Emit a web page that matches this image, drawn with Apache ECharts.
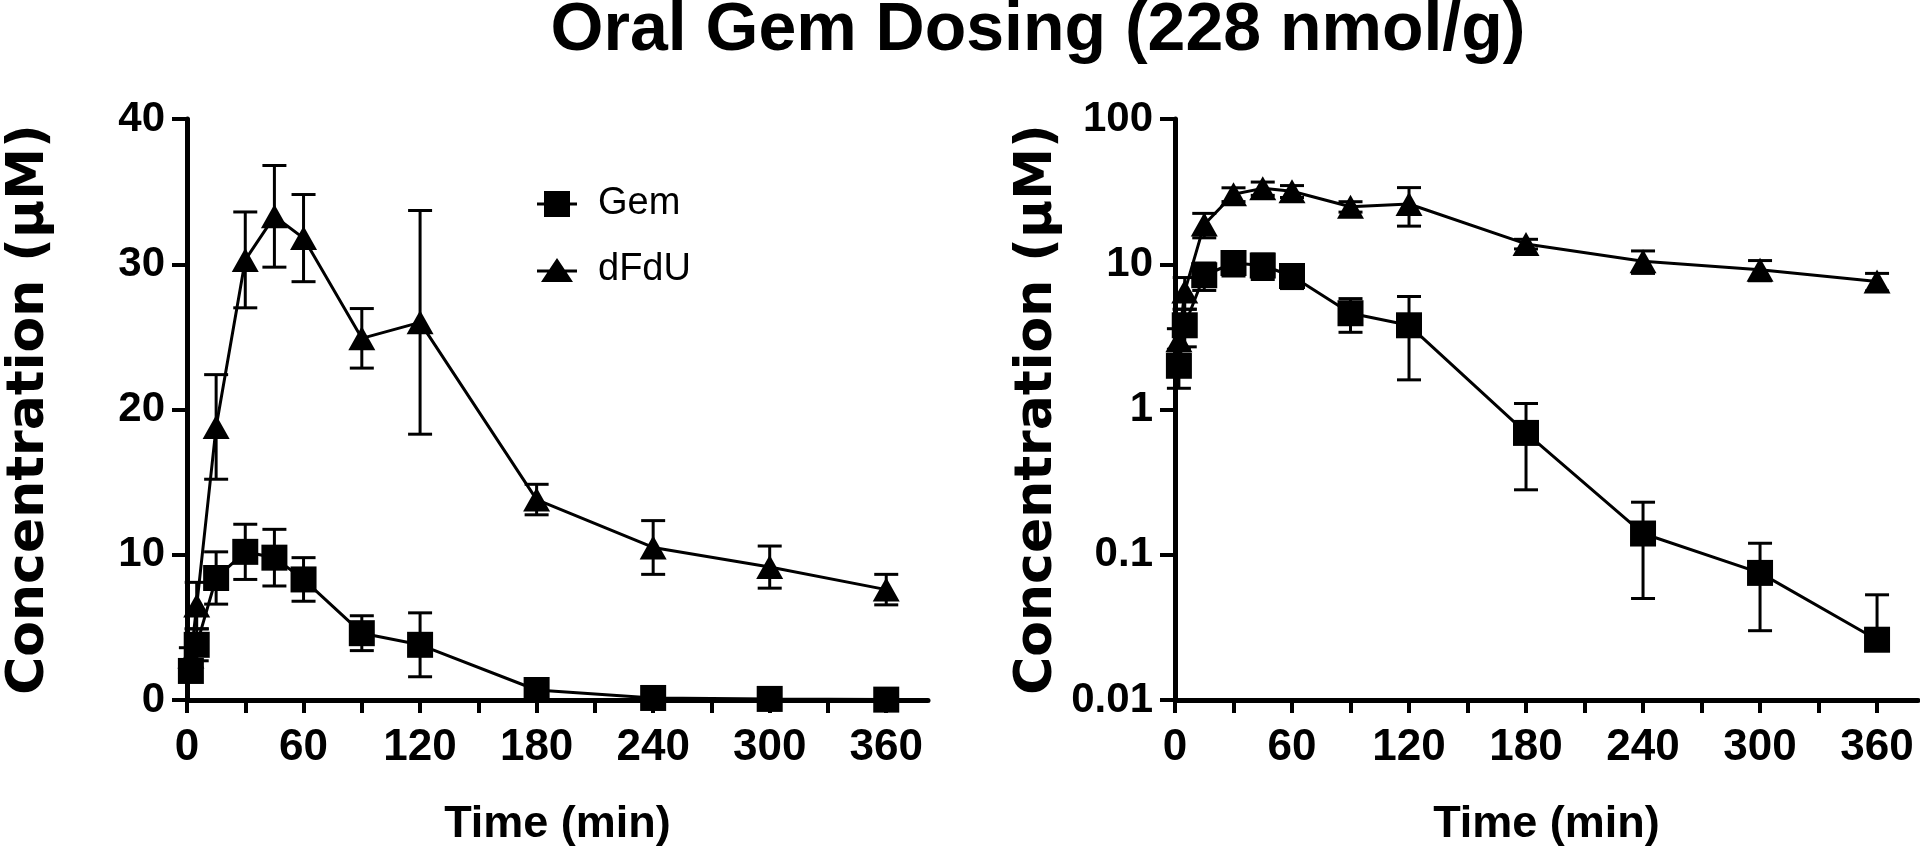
<!DOCTYPE html>
<html>
<head>
<meta charset="utf-8">
<script src="https://cdn.jsdelivr.net/npm/echarts@6/dist/echarts.min.js"></script>
<style>
html,body{margin:0;padding:0;background:#fff;}
#chart{width:1920px;height:852px;}
</style>
</head>
<body>
<div id="chart"></div>
<script>
// ---- data ----
var titleText = 'Oral Gem Dosing (228 nmol/g)';
var seriesNames = ['Gem', 'dFdU'];
var timeMin = [2, 5, 15, 30, 45, 60, 90, 120, 180, 240, 300, 360];
var gemMean = [2.0, 3.8, 8.4, 10.2, 9.8, 8.3, 4.6, 3.8, 0.69, 0.14, 0.075, 0.026];
var gemSD   = [0.6, 1.1, 1.8, 1.9, 1.95, 1.5, 1.2, 2.2, 0.41, 0.09, 0.045, 0.027];
var dfduMean = [3.0, 6.5, 18.8, 30.3, 33.3, 31.8, 24.9, 26.0, 13.8, 10.5, 9.15, 7.6];
var dfduSD   = [0.6, 1.6, 3.6, 3.3, 3.5, 3.0, 2.05, 7.7, 1.05, 1.85, 1.45, 1.05];
var xLabelValues = [0, 60, 120, 180, 240, 300, 360];
var xTickValues = [0, 30, 60, 90, 120, 150, 180, 210, 240, 270, 300, 330, 360];
var yLinTicks = [0, 10, 20, 30, 40];
var yLogTicks = [0.01, 0.1, 1, 10, 100];
var xName = 'Time (min)';
var yName = 'Concentration (\u00B5M)';

function pairs(t, v) { return t.map(function (x, i) { return [x, v[i]]; }); }
function triples(t, v, s) { return t.map(function (x, i) { return [x, v[i], s[i]]; }); }

var chart = echarts.init(document.getElementById('chart'), null, {renderer: 'canvas'});

var boldSans = "'Liberation Sans', Arial, sans-serif";
var narrowSans = "'Liberation Sans Narrow', 'Liberation Sans', Arial, sans-serif";

function errorBarRender(isLog) {
  return function (params, api) {
    var x = api.value(0), m = api.value(1), sd = api.value(2);
    var top = m + sd, bot = m - sd;
    var pTop = api.coord([x, top]);
    var pMid = api.coord([x, m]);
    var hasLow = !(isLog && bot <= 0);
    var pBot = hasLow ? api.coord([x, bot]) : pMid;
    var cap = 12;
    var st = {stroke: '#000', lineWidth: 3};
    var children = [
      {type: 'line', shape: {x1: pTop[0], y1: pTop[1], x2: pBot[0], y2: pBot[1]}, style: st},
      {type: 'line', shape: {x1: pTop[0] - cap, y1: pTop[1], x2: pTop[0] + cap, y2: pTop[1]}, style: st}
    ];
    if (hasLow) {
      children.push({type: 'line', shape: {x1: pBot[0] - cap, y1: pBot[1], x2: pBot[0] + cap, y2: pBot[1]}, style: st});
    }
    return {type: 'group', children: children};
  };
}

function xAxisDef(idx, maxV) {
  return {
    type: 'value', gridIndex: idx, min: 0, max: maxV,
    name: xName, nameLocation: 'middle', nameGap: 102, nameMoveOverlap: false,
    nameTextStyle: {fontFamily: boldSans, fontWeight: 'bold', fontSize: 45, color: '#000'},
    axisLine: {show: true, onZero: false, lineStyle: {color: '#000', width: 5}},
    axisTick: {show: true, length: 13, customValues: xTickValues, lineStyle: {color: '#000', width: 4}},
    axisLabel: {show: true, customValues: xLabelValues, margin: 26, fontFamily: narrowSans, fontWeight: 'bold', fontSize: 44, color: '#000'},
    splitLine: {show: false}
  };
}

function yAxisDef(idx, isLog, nameGap) {
  var base = {
    gridIndex: idx,
    name: yName, nameLocation: 'middle', nameRotate: 90, nameGap: nameGap, nameMoveOverlap: false,
    nameTextStyle: {fontFamily: "'DejaVu Sans', sans-serif", fontWeight: 'bold', fontSize: 52, color: '#000'},
    axisLine: {show: true, onZero: false, lineStyle: {color: '#000', width: 5}},
    axisTick: {show: true, length: 15, lineStyle: {color: '#000', width: 4}},
    axisLabel: {show: true, margin: 22, fontFamily: boldSans, fontWeight: 'bold', fontSize: 42, color: '#000',
      formatter: function (v) { return String(Number(Number(v).toPrecision(3))); }},
    splitLine: {show: false}
  };
  if (isLog) {
    base.type = 'log'; base.logBase = 10; base.min = yLogTicks[0]; base.max = yLogTicks[yLogTicks.length - 1];
  } else {
    base.type = 'value'; base.min = yLinTicks[0]; base.max = yLinTicks[yLinTicks.length - 1]; base.interval = 10;
  }
  return base;
}

function lineSeries(name, idx, data, symbol, size) {
  return {
    name: name, type: 'line', xAxisIndex: idx, yAxisIndex: idx, data: data,
    symbol: symbol, symbolSize: size, showAllSymbol: true,
    lineStyle: {color: '#000', width: 3}, itemStyle: {color: '#000', borderWidth: 0},
    emphasis: {disabled: true}, z: 3, animation: false
  };
}
function errSeries(name, idx, data, isLog) {
  return {
    name: name, type: 'custom', xAxisIndex: idx, yAxisIndex: idx, data: data,
    itemStyle: {color: '#000'},
    renderItem: errorBarRender(isLog), encode: {x: 0, y: 1}, z: 2, animation: false, silent: true
  };
}

var option = {
  backgroundColor: '#fff',
  animation: false,
  title: {
    text: titleText, left: 1033, top: -8, textAlign: 'center',
    textStyle: {fontFamily: boldSans, fontWeight: 'bold', fontSize: 68, color: '#000'}
  },
  legend: {
    show: true, orient: 'vertical', left: 532, top: 180, itemWidth: 40, itemHeight: 26, itemGap: 28,
    data: [
      {name: seriesNames[0], icon: 'path://M0,11.5 L7,11.5 L7,0 L33,0 L33,11.5 L40,11.5 L40,14.5 L33,14.5 L33,26 L7,26 L7,14.5 L0,14.5 Z'},
      {name: seriesNames[1], icon: 'path://M0,13.5 L12.3,13.5 L20,2 L27.7,13.5 L40,13.5 L40,16.5 L29.7,16.5 L36,26 L4,26 L10.3,16.5 L0,16.5 Z'}
    ],
    itemStyle: {color: '#000', borderWidth: 0},
    lineStyle: {color: '#000'},
    textStyle: {fontFamily: boldSans, fontSize: 38, color: '#000', padding: [0, 0, 0, 16]},
    selectedMode: false
  },
  grid: [
    {left: 187, top: 119, width: 741, height: 590},
    {left: 1175, top: 119, width: 743, height: 590}
  ],
  xAxis: [xAxisDef(0, 381.5), xAxisDef(1, 381)],
  yAxis: [yAxisDef(0, false, 132), yAxisDef(1, true, 112)],
  series: [
    errSeries('Gem', 0, triples(timeMin, gemMean, gemSD), false),
    errSeries('dFdU', 0, triples(timeMin, dfduMean, dfduSD), false),
    lineSeries('Gem', 0, pairs(timeMin, gemMean), 'rect', 26),
    lineSeries('dFdU', 0, pairs(timeMin, dfduMean), 'triangle', [27, 24]),
    errSeries('Gem', 1, triples(timeMin, gemMean, gemSD), true),
    errSeries('dFdU', 1, triples(timeMin, dfduMean, dfduSD), true),
    lineSeries('Gem', 1, pairs(timeMin, gemMean), 'rect', 26),
    lineSeries('dFdU', 1, pairs(timeMin, dfduMean), 'triangle', [27, 24])
  ]
};
chart.setOption(option);
</script>
</body>
</html>
